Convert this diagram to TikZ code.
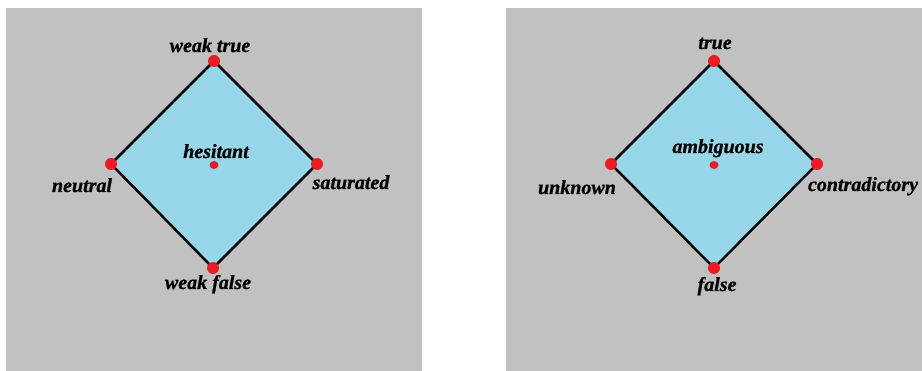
\documentclass[tikz,border=0pt]{standalone}
\usepackage{fontspec}
\usetikzlibrary{shapes.geometric}
\setmainfont{Liberation Serif}
\newfontfamily\labfont{Liberation Serif Bold Italic}[FakeBold=1]
\definecolor{panelgray}{RGB}{193,193,193}
\definecolor{diafill}{RGB}{152,214,234}
\definecolor{dotred}{RGB}{232,28,36}
\begin{document}
\begin{tikzpicture}[x=1pt,y=-1pt,
  vdot/.style={circle,fill=dotred,inner sep=0pt,minimum size=12pt},
  cdot/.style={ellipse,fill=dotred,inner sep=0pt,minimum width=9pt,minimum height=8pt},
  lab/.style={anchor=base,inner sep=0pt,font=\labfont\fontsize{20}{24}\selectfont},
  edge/.style={draw=black,line width=2.5pt,line join=round}]
\useasboundingbox (0,0) rectangle (922,371);
\fill[white] (0,0) rectangle (922,371);
% panels
\fill[panelgray] (6,8) rectangle (422,371);
\fill[panelgray] (506,8) rectangle (922,371);
% left diamond
\coordinate (LT) at (214,61);
\coordinate (LL) at (111,164);
\coordinate (LR) at (317,164);
\coordinate (LB) at (213,268);
\fill[diafill] (LT) -- (LR) -- (LB) -- (LL) -- cycle;
\draw[edge] (LT) -- (LR) -- (LB) -- (LL) -- cycle;
\node[vdot] (lt) at (LT) {};
\node[vdot] (ll) at (LL) {};
\node[vdot] (lr) at (LR) {};
\node[vdot] (lb) at (LB) {};
\node[cdot] (lc) at (214,165) {};
\node[lab] (wt) at (210,52) {weak true};
\node[lab] (hes) at (216,158) {hesitant};
\node[lab] (neu) at (82,192) {neutral};
\node[lab] (sat) at (351,189) {saturated};
\node[lab] (wf) at (208,289) {weak false};
% right diamond
\coordinate (RT) at (714,61);
\coordinate (RL) at (611,164);
\coordinate (RR) at (817,164);
\coordinate (RB) at (714,268);
\fill[diafill] (RT) -- (RR) -- (RB) -- (RL) -- cycle;
\draw[edge] (RT) -- (RR) -- (RB) -- (RL) -- cycle;
\node[vdot] (rt) at (RT) {};
\node[vdot] (rl) at (RL) {};
\node[vdot] (rr) at (RR) {};
\node[vdot] (rb) at (RB) {};
\node[cdot] (rc) at (714,165) {};
\node[lab] (tr) at (715,49) {true};
\node[lab] (amb) at (718,153) {ambiguous};
\node[lab] (unk) at (577,194) {unknown};
\node[lab] (con) at (863,191) {contradictory};
\node[lab] (fa) at (717,291) {false};
\end{tikzpicture}
\end{document}
